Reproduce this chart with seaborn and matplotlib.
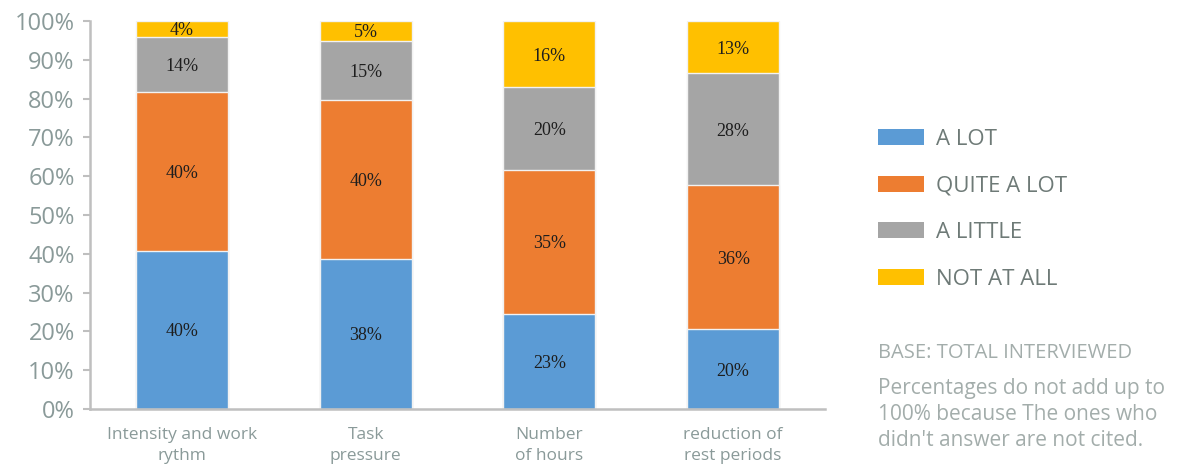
import numpy as np
import pandas as pd
import matplotlib
matplotlib.use("Agg")
import matplotlib.pyplot as plt
from matplotlib.patches import Patch
import seaborn as sns

# Survey answers per pressure factor (percent)
categories = ["Intensity and work\nrythm", "Task\npressure", "Number\nof hours", "reduction of\nrest periods"]
a_lot = [40, 38, 23, 20]
quite_a_lot = [40, 40, 35, 36]
a_little = [14, 15, 20, 28]
not_at_all = [4, 5, 16, 13]
series_names = ["A LOT", "QUITE A LOT", "A LITTLE", "NOT AT ALL"]
y_ticks = [0, 10, 20, 30, 40, 50, 60, 70, 80, 90, 100]

colors = ["#5B9BD5", "#ED7D31", "#A5A5A5", "#FFC000"]
tick_gray = "#8A9A99"
legend_gray = "#6E7A77"
note_gray = "#A3ADAB"

sns.set_theme(style="white")
plt.rcParams["font.family"] = ["Open Sans", "DejaVu Sans"]

values = np.array([a_lot, quite_a_lot, a_little, not_at_all], dtype=float)
# Each bar is scaled to fill 100% (non-answers are left out)
shares = values / values.sum(axis=0) * 100
cum = np.cumsum(shares, axis=0)

fig = plt.figure(figsize=(11.81, 4.65), dpi=100)
ax = fig.add_axes([90 / 1181, 1 - 409 / 465, (825 - 90) / 1181, (409 - 21) / 465])

# Stacked bars: draw cumulative totals from the top layer down
for i in range(3, -1, -1):
    df = pd.DataFrame({"cat": categories, "val": cum[i]})
    sns.barplot(data=df, x="cat", y="val", color=colors[i], width=0.5,
                edgecolor="#f2f2f2", linewidth=1.0, saturation=1, ax=ax)

# Segment value labels
for j in range(len(categories)):
    for i in range(4):
        center = cum[i, j] - shares[i, j] / 2
        ax.text(j, center, f"{int(values[i, j])}%", ha="center", va="center_baseline",
                fontsize=13, family="Liberation Serif", color="#1E1E1E")

ax.set_xlim(-0.5, 3.5)
ax.set_ylim(0, 100)
ax.set_yticks(y_ticks)
ax.set_yticklabels([f"{t}%" for t in y_ticks])
ax.set_xlabel("")
ax.set_ylabel("")
ax.tick_params(axis="y", length=5, width=1.5, color="#BFBFBF", pad=6,
               labelsize=17, labelcolor=tick_gray, left=True)
ax.tick_params(axis="x", length=0, pad=13, labelsize=12.5, labelcolor=tick_gray)
for lbl in ax.get_xticklabels():
    lbl.set_linespacing(1.4)
for side in ["top", "right"]:
    ax.spines[side].set_visible(False)
for side in ["left", "bottom"]:
    ax.spines[side].set_color("#BFBFBF")
    ax.spines[side].set_linewidth(1.8)

handles = [Patch(facecolor=c, edgecolor="none") for c in colors]
fig.legend(handles, series_names, loc="upper left",
           bbox_to_anchor=(878 / 1181, 1 - 129 / 465), frameon=False,
           fontsize=16, labelcolor=legend_gray, handlelength=2.05, handleheight=0.72,
           handletextpad=0.55, labelspacing=1.15, borderpad=0, borderaxespad=0)

fig.text(878 / 1181, 1 - 353 / 465, "BASE: TOTAL INTERVIEWED", fontsize=14.5,
         color=note_gray, va="center", ha="left")
fig.text(878 / 1181, 1 - 378 / 465,
         "Percentages do not add up to\n100% because The ones who\ndidn't answer are not cited.",
         fontsize=15, color=note_gray, va="top", ha="left", linespacing=1.32)

fig.savefig("out.png", dpi=100)
